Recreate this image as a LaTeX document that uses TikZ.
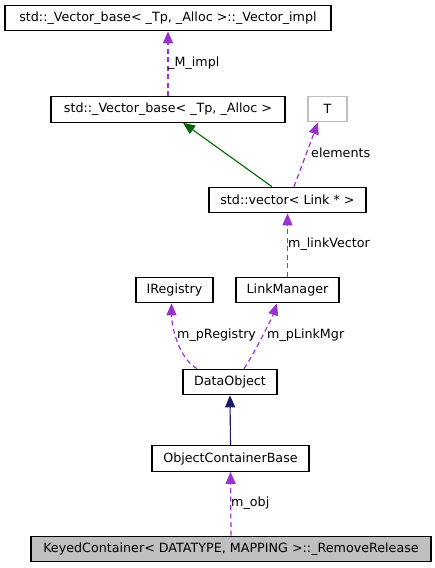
\documentclass[tikz,border=0pt]{standalone}
\usepackage{fontspec}
\setmainfont{DejaVu Sans}
\usetikzlibrary{arrows.meta}
\definecolor{mbrclr}{HTML}{9A32CD}
\definecolor{inhclr}{HTML}{006400}
\definecolor{pubclr}{HTML}{191970}
\definecolor{grayclr}{HTML}{BFBFBF}
\begin{document}
\begin{tikzpicture}[x=1pt,y=-1pt,
        cls/.style = {draw, line width=1.1pt, inner sep=0pt, minimum height=25.5pt,
                      font=\fontsize{12.7}{14}\selectfont},
        tip/.style = {-{Triangle[length=12pt,width=10pt]}},
        mbr/.style = {tip, color=mbrclr, line width=1.2pt, dash pattern=on 5pt off 3.5pt},
        inh/.style = {tip, line width=1.1pt},
        lbl/.style = {anchor=west, inner sep=0pt, font=\fontsize{12.7}{14}\selectfont}
    ]
        \useasboundingbox (0,0) rectangle (435,568);
        % classes
        \node[cls, minimum width=326pt] (impl) at (168,18) {std::\_Vector\_base< \_Tp, \_Alloc >::\_Vector\_impl};
        \node[cls, minimum width=234pt] (base) at (168,109.5) {std::\_Vector\_base< \_Tp, \_Alloc >};
        \node[cls, minimum width=39pt, draw=grayclr] (tmpl) at (327.5,109) {T};
        \node[cls, minimum width=157pt] (vec) at (287.5,200) {std::vector< Link * >};
        \node[cls, minimum width=77pt] (reg) at (174.5,290) {IRegistry};
        \node[cls, minimum width=103pt] (lmgr) at (287.5,290) {LinkManager};
        \node[cls, minimum width=94pt] (dobj) at (230,382) {DataObject};
        \node[cls, minimum width=157pt] (ocb) at (230.5,458.5) {ObjectContainerBase};
        \node[cls, minimum width=400pt, fill=grayclr] (keyed) at (231,549) {KeyedContainer< DATATYPE, MAPPING >::\_RemoveRelease};
        % links
        \draw[mbr] (base.north) -- (impl.south);
        \draw[inh, color=inhclr] ([xshift=-15.5pt]vec.north) -- ([xshift=15pt]base.south);
        \draw[mbr] ([xshift=6.5pt]vec.north) -- ([xshift=-9.5pt]tmpl.south);
        \draw[mbr] (lmgr.north) -- (vec.south);
        \draw[mbr] ([xshift=-33pt]dobj.north) .. controls +(-20,-12) and +(0,20) .. ([xshift=-3pt]reg.south);
        \draw[mbr] ([xshift=14pt]dobj.north) .. controls +(12,-18) and +(-4,12) .. ([xshift=-10.5pt]lmgr.south);
        \draw[inh, color=pubclr] (ocb.north) -- (dobj.south);
        \draw[mbr] (keyed.north) -- (ocb.south);
        % labels
        \node[lbl] (limpl) at (168,63) {\_M\_impl};
        \node[lbl] (lelem) at (311,153) {elements};
        \node[lbl] (lvec) at (288,244) {m\_linkVector};
        \node[lbl] (lreg) at (177,335) {m\_pRegistry};
        \node[lbl] (llmgr) at (267,335) {m\_pLinkMgr};
        \node[lbl] (lobj) at (231,503) {m\_obj};
    \end{tikzpicture}
\end{document}
